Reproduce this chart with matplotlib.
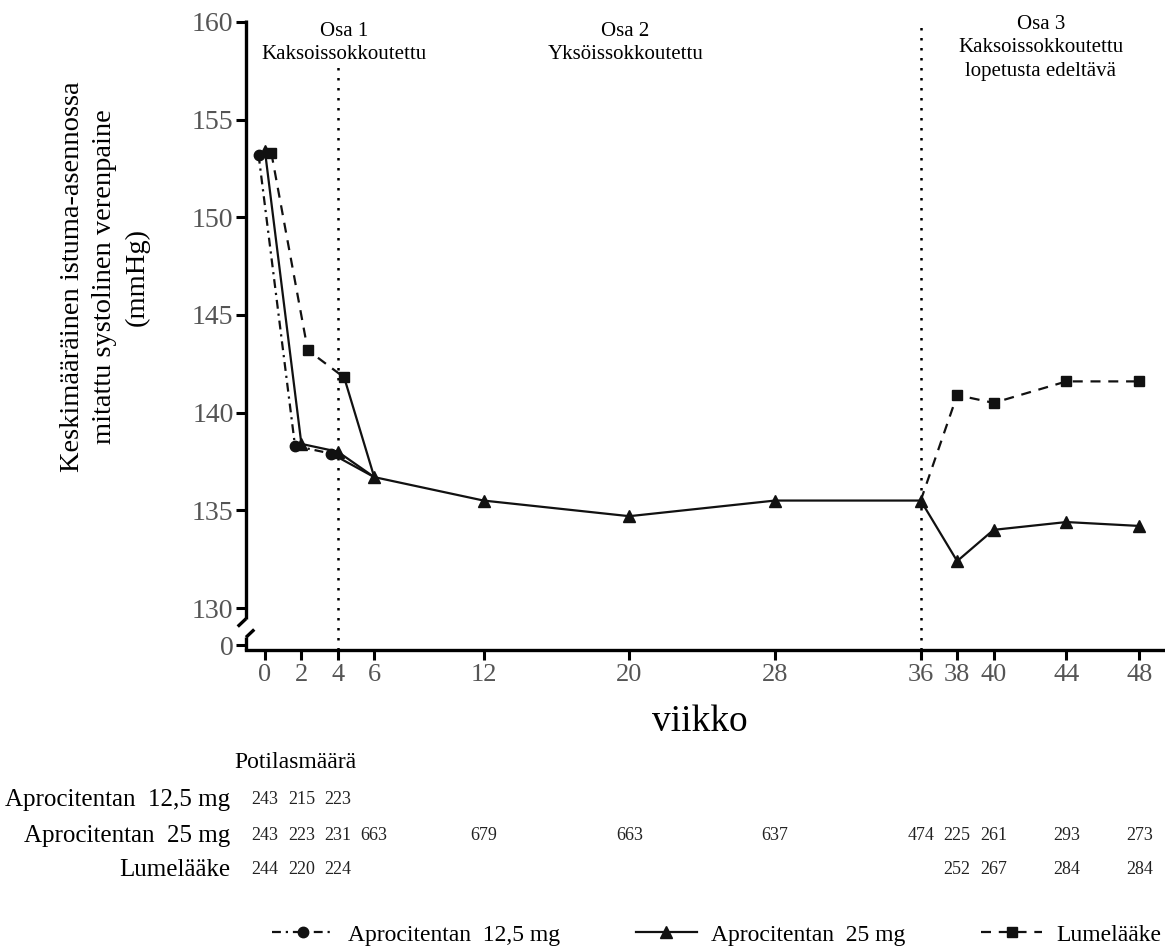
import matplotlib
matplotlib.use("Agg")
import matplotlib.pyplot as plt
import matplotlib.transforms as mtransforms

plt.rcParams["font.family"] = ["Liberation Serif", "DejaVu Serif"]

# ── Data ───────────────────────────────────────────────────────────────────────
weeks = [0, 2, 4, 6, 12, 20, 28, 36, 38, 40, 44, 48]
sbp_25 = [153.4, 138.4, 138.0, 136.7, 135.5, 134.7, 135.5, 135.5, 132.4, 134.0, 134.4, 134.2]

weeks_part1 = [0, 2, 4]
sbp_125 = [153.2, 138.3, 137.9]
sbp_plc_part1 = [153.3, 143.2, 141.8]

weeks_part3 = [36, 38, 40, 44, 48]
sbp_plc_part3 = [135.5, 140.9, 140.5, 141.6, 141.6]

dodge = 0.35

n_labels = ["Aprocitentan  12,5 mg", "Aprocitentan  25 mg", "Lumelääke"]
n_weeks_125 = [0, 2, 4]
n_125 = [243, 215, 223]
n_weeks_25 = weeks
n_25 = [243, 223, 231, 663, 679, 663, 637, 474, 225, 261, 293, 273]
n_weeks_plc = [0, 2, 4, 38, 40, 44, 48]
n_plc = [244, 220, 224, 252, 267, 284, 284]

yticks = [130, 135, 140, 145, 150, 155, 160]
y_zero = 128.1   # where the "0" tick sits below the axis break

# ── Figure ─────────────────────────────────────────────────────────────────────
W, H = 1165, 950
fig = plt.figure(figsize=(W / 100, H / 100), dpi=100)
ax = fig.add_axes([246 / W, 1 - 650 / H, (1163 - 246) / W, (650 - 20) / H])

lw = 1.6
ms = 7.5
col = "#111111"

x125 = [w - dodge for w in weeks_part1]
xplc = [w + dodge for w in weeks_part1]

# transition to 25 mg at week 6
ax.plot([x125[-1], weeks[3]], [sbp_125[-1], sbp_25[3]], color=col, lw=lw, zorder=2)
ax.plot([xplc[-1], weeks[3]], [sbp_plc_part1[-1], sbp_25[3]], color=col, lw=lw, zorder=2)

l125, = ax.plot(x125, sbp_125, color=col, lw=lw, ls=(0, (4, 2.2, 1, 2.2)),
                marker="o", ms=ms, label="Aprocitentan  12,5 mg", zorder=3)
l25, = ax.plot(weeks, sbp_25, color=col, lw=lw, ls="-",
               marker="^", ms=ms + 1.5, label="Aprocitentan  25 mg", zorder=3)
lplc, = ax.plot(xplc, sbp_plc_part1, color=col, lw=lw, ls=(0, (4.5, 3.5)),
                marker="s", ms=ms, label="Lumelääke", zorder=3)
ax.plot(weeks_part3[1:], sbp_plc_part3[1:], color=col, lw=lw, ls="none",
        marker="s", ms=ms, zorder=3)
ax.plot(weeks_part3, sbp_plc_part3, color=col, lw=lw, ls=(0, (4.5, 3.5)), zorder=2)

# part boundaries
for xv in [4, 36]:
    ax.axvline(xv, color="black", lw=1.8, ls=(0, (1, 3)), zorder=1)

ax.set_xlim(-1.04, 49.3)
ax.set_ylim(127.85, 160.1)

ax.set_xticks(weeks)
ax.set_xticklabels([str(w) for w in weeks])
ax.set_yticks([y_zero] + yticks)
ax.set_yticklabels(["0"] + [str(t) for t in yticks])
ax.tick_params(axis="both", direction="out", length=7, width=2.2, colors="black",
               labelcolor="#555555")
ax.tick_params(axis="x", labelsize=19, pad=3)
ax.tick_params(axis="y", labelsize=20, pad=2)

for s in ["top", "right", "left"]:
    ax.spines[s].set_visible(False)
ax.spines["bottom"].set_linewidth(2.4)

# left spine with axis break
bt = mtransforms.blended_transform_factory(ax.transAxes, ax.transData)
kw = dict(color="black", lw=2.4, transform=bt, clip_on=False, solid_capstyle="butt")
ax.plot([0, 0], [129.45, 160.1], **kw)
ax.plot([0, -0.009], [129.45, 129.05], **kw)
ax.plot([0, 0], [127.85, 128.5], **kw)
ax.plot([0, 0.009], [128.5, 128.9], **kw)

# part labels
tt = mtransforms.blended_transform_factory(ax.transData, fig.transFigure)
box = dict(facecolor="white", edgecolor="none", pad=1)
ax.text(4.35, 1 - 43 / H, "Osa 1\nKaksoissokkoutettu", transform=tt, ha="center",
        va="center", fontsize=15, linespacing=1.3, bbox=box, zorder=4)
ax.text(19.8, 1 - 43 / H, "Osa 2\nYksöissokkoutettu", transform=tt, ha="center",
        va="center", fontsize=15, linespacing=1.3, bbox=box, zorder=4)
ax.text(42.6, 1 - 48 / H, "Osa 3\nKaksoissokkoutettu\nlopetusta edeltävä", transform=tt,
        ha="center", va="center", fontsize=15, linespacing=1.3, bbox=box, zorder=4)

# axis titles
fig.text(105 / W, 1 - 277 / H,
         "Keskimääräinen istuma-asennossa\nmitattu systolinen verenpaine\n(mmHg)",
         rotation=90, ha="center", va="center", fontsize=20.5, linespacing=1.4,
         multialignment="center")
fig.text(700 / W, 1 - 722 / H, "viikko", ha="center", va="center", fontsize=27)

# patient numbers table
fig.text(295 / W, 1 - 762 / H, "Potilasmäärä", ha="center", va="center", fontsize=17)
row_y = [800, 836, 870]
row_weeks = [n_weeks_125, n_weeks_25, n_weeks_plc]
row_vals = [n_125, n_25, n_plc]
for lab, yy, ws, ns in zip(n_labels, row_y, row_weeks, row_vals):
    fig.text(230 / W, 1 - yy / H, lab, ha="right", va="center", fontsize=18)
    for w, n in zip(ws, ns):
        ax.text(w, 1 - yy / H, str(n), transform=tt, ha="center", va="center",
                fontsize=13, color="#222222")

fig.legend(handles=[l125, l25, lplc], loc="center",
           bbox_to_anchor=(717 / W, 1 - 935 / H), ncol=3, frameon=False,
           fontsize=17, handlelength=2.6, handletextpad=0.6, columnspacing=3.2)

fig.savefig("out.png", dpi=100, facecolor="white")
